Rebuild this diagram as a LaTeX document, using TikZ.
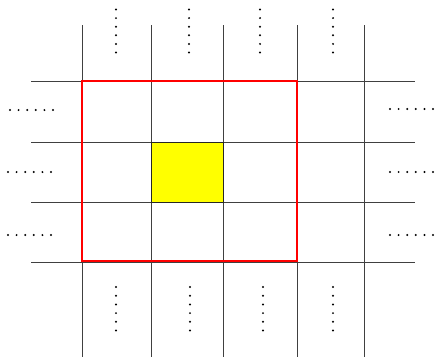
\documentclass[tikz,border=0pt]{standalone}
\definecolor{pureyellow}{RGB}{255,255,0}
\definecolor{purered}{RGB}{255,0,0}
\begin{document}
\begin{tikzpicture}[x=1pt,y=-1pt,
  gridline/.style={draw=black!75,line width=0.8pt},
  redbox/.style={draw=purered,line width=2.2pt},
  dotmark/.style={fill=black,draw=none}]
\useasboundingbox (0,0) rectangle (435,357);
% yellow cell
\fill[pureyellow] (151,142) rectangle (223,202);
% vertical lines
\foreach \x in {82,151,223,297,364} \draw[gridline] (\x,25) -- (\x,357);
% horizontal lines
\foreach \y in {81,142,202,262} \draw[gridline] (31,\y) -- (415,\y);
\draw[black!85,line width=0.9pt] (151,142) rectangle (223,202);
% red box
\draw[redbox] (82,81) rectangle (297,261);
% top dots
\foreach \x in {116,189,260,333}
  \foreach \i in {0,...,5} \fill[dotmark] (\x,{9.5+8.6*\i}) circle (1.1pt);
% bottom dots
\foreach \x in {116,190,263,333}
  \foreach \i in {0,...,5} \fill[dotmark] (\x,{287+8.7*\i}) circle (1.1pt);
% left dots
\foreach \y/\s in {110/10,172/8,235/8}
  \foreach \i in {0,...,5} \fill[dotmark] ({\s+8.6*\i},\y) circle (1.1pt);
% right dots
\foreach \y in {109,172,235}
  \foreach \i in {0,...,5} \fill[dotmark] ({390+8.6*\i},\y) circle (1.1pt);
\end{tikzpicture}
\end{document}
